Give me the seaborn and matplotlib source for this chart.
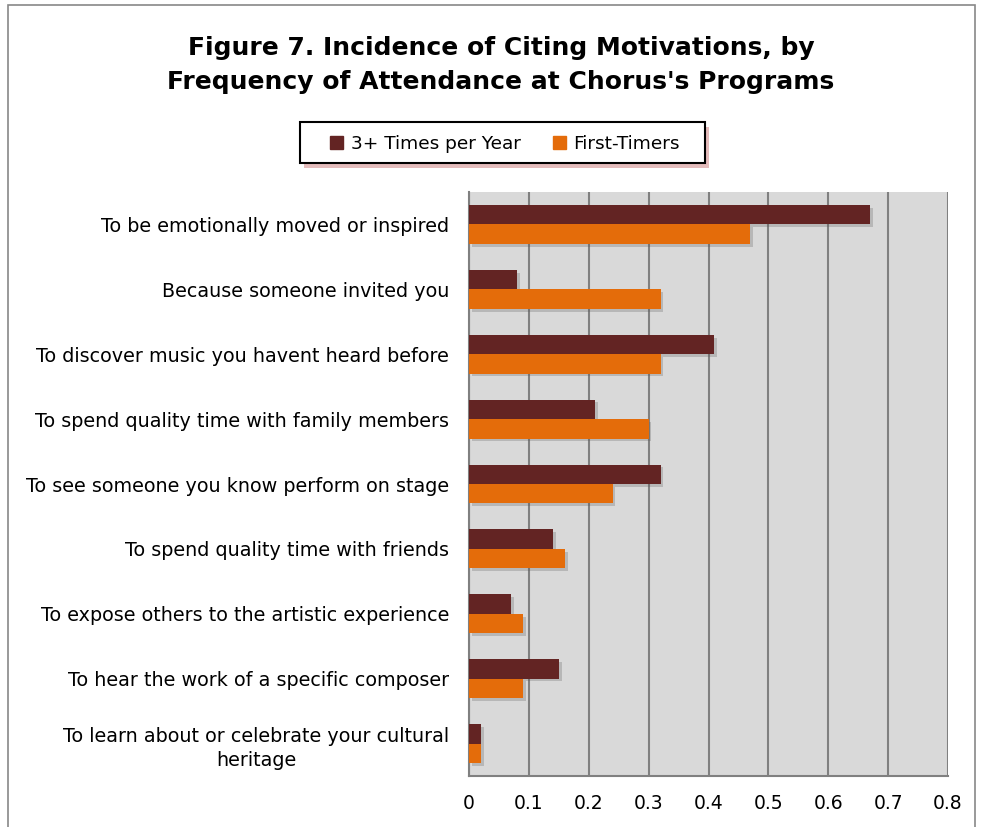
import matplotlib
matplotlib.use("Agg")
import matplotlib.pyplot as plt
import matplotlib.patheffects as pe
from matplotlib.patches import Rectangle
from matplotlib.ticker import FixedLocator
import seaborn as sns
import pandas as pd
import numpy as np

categories = [
    "To be emotionally moved or inspired",
    "Because someone invited you",
    "To discover music you havent heard before",
    "To spend quality time with family members",
    "To see someone you know perform on stage",
    "To spend quality time with friends",
    "To expose others to the artistic experience",
    "To hear the work of a specific composer",
    "To learn about or celebrate your cultural\nheritage",
]
series_names = ["3+ Times per Year", "First-Timers"]
frequent = [0.67, 0.08, 0.41, 0.21, 0.32, 0.14, 0.07, 0.15, 0.02]
first_timers = [0.47, 0.32, 0.32, 0.30, 0.24, 0.16, 0.09, 0.09, 0.02]
colors = ["#632423", "#E46C0A"]
x_ticks = [0, 0.1, 0.2, 0.3, 0.4, 0.5, 0.6, 0.7, 0.8]

df = pd.DataFrame({
    "Motivation": categories * 2,
    "Share": frequent + first_timers,
    "Group": [series_names[0]] * len(categories) + [series_names[1]] * len(categories),
})

sns.set_theme(style="white")
plt.rcParams["font.family"] = ["DejaVu Sans"]
plt.rcParams["text.color"] = "black"
plt.rcParams["xtick.color"] = "black"
plt.rcParams["ytick.color"] = "black"

fig = plt.figure(figsize=(9.82, 8.27), dpi=100)
ax = fig.add_axes([469 / 982, 1 - 776 / 827, (948 - 469) / 982, (776 - 192) / 827])
ax.set_facecolor("#D9D9D9")

sns.barplot(data=df, y="Motivation", x="Share", hue="Group", order=categories,
            hue_order=series_names, palette=colors, orient="h", width=0.6,
            saturation=1, linewidth=0, ax=ax, legend=False, zorder=3)

for p in ax.patches:
    p.set_path_effects([pe.SimplePatchShadow(offset=(2, -2), shadow_rgbFace="#555555", alpha=0.25), pe.Normal()])

ax.set_xlim(0, 0.8)
ax.set_ylim(len(categories) - 0.5, -0.5)
ax.xaxis.set_major_locator(FixedLocator(x_ticks))
ax.set_xticklabels([("%g" % v) for v in x_ticks], fontsize=13.5)
ax.grid(axis="x", color="#808080", linewidth=1.5, zorder=0)
ax.set_axisbelow(True)

ax.set_yticks(range(len(categories)))
ax.set_yticklabels(categories, fontsize=13.8, multialignment="center", linespacing=1.35)
ax.tick_params(axis="y", which="major", length=0, pad=14.4)
ax.yaxis.set_minor_locator(FixedLocator(np.arange(-0.5, len(categories), 1.0)))
ax.tick_params(axis="y", which="minor", length=5, width=1.5, color="#808080", direction="out")
ax.tick_params(axis="x", which="major", length=5, width=1.5, color="#808080", direction="out", pad=8)
ax.set_xlabel("")
ax.set_ylabel("")
for s in ["top", "right"]:
    ax.spines[s].set_visible(False)
for s in ["left", "bottom"]:
    ax.spines[s].set_color("#808080")
    ax.spines[s].set_linewidth(1.5)

fig.text(501 / 982, 1 - 65 / 827,
         "Figure 7. Incidence of Citing Motivations, by\nFrequency of Attendance at Chorus's Programs",
         ha="center", va="center", fontsize=18, fontweight="bold", linespacing=1.55)

# legend box with soft reddish shadow
W, H = 982, 827
lx0, lx1, ly0, ly1 = 300, 705, 122, 163
fig.patches.append(Rectangle(((lx0 + 4) / W, 1 - (ly1 + 5) / H), (lx1 - lx0) / W, (ly1 - ly0) / H,
                             transform=fig.transFigure, facecolor="#D9A0A0", edgecolor="none", alpha=0.7, zorder=1))
fig.patches.append(Rectangle((lx0 / W, 1 - ly1 / H), (lx1 - lx0) / W, (ly1 - ly0) / H,
                             transform=fig.transFigure, facecolor="white", edgecolor="black", linewidth=1.5, zorder=2))
handles = [Rectangle((0, 0), 1, 1, color=c) for c in colors]
leg = fig.legend(handles, series_names, loc="center", bbox_to_anchor=(505 / W, 1 - 144 / H),
                 ncol=2, frameon=False, fontsize=13.3,
                 handlelength=0.7, handleheight=0.7, handletextpad=0.4, columnspacing=1.75)
leg.set_zorder(5)

fig.patches.append(Rectangle((8 / W, -0.1), (975 - 8) / W, 1.1 - 5 / H, transform=fig.transFigure,
                             fill=False, edgecolor="#888888", linewidth=1.2))

fig.savefig("out.png", dpi=100)
